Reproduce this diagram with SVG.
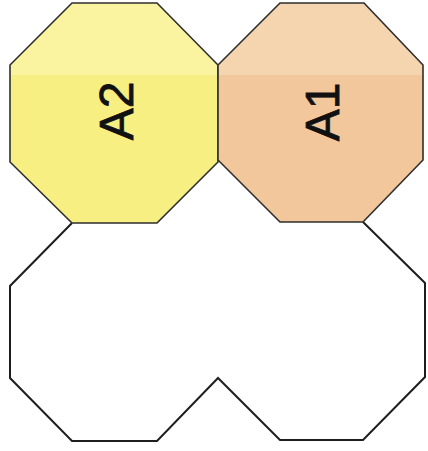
<svg xmlns="http://www.w3.org/2000/svg" width="428" height="451" viewBox="0 0 428 451">
<defs>
<linearGradient id="gy" gradientUnits="userSpaceOnUse" x1="0" y1="0" x2="0" y2="451">
<stop offset="0" stop-color="#faf4a0"/><stop offset="0.166" stop-color="#faf4a0"/><stop offset="0.166" stop-color="#f8ef82"/><stop offset="1" stop-color="#f8ef82"/>
</linearGradient>
<linearGradient id="go" gradientUnits="userSpaceOnUse" x1="0" y1="0" x2="0" y2="451">
<stop offset="0" stop-color="#f5d4b0"/><stop offset="0.166" stop-color="#f5d4b0"/><stop offset="0.166" stop-color="#f2c79c"/><stop offset="1" stop-color="#f2c79c"/>
</linearGradient>
</defs>
<style>
.oct{stroke:#2e2e2e;stroke-width:1.6;stroke-linejoin:miter}
.lbl{font-family:"Liberation Sans",Arial,sans-serif;font-size:48px;fill:#111111;stroke:#111111;stroke-width:0.8;text-anchor:middle}
.out{fill:none;stroke:#1e1e1e;stroke-width:2;stroke-linejoin:miter}
</style>
<rect width="428" height="451" fill="#ffffff"/>
<g id="bottom">
<polyline class="out" points="72,223 10,286 10,378 72,441 157,441 218,378 280,440 363,440 425,377 425,283 363,222"/>
</g>
<g id="A2">
<polygon class="oct" fill="url(#gy)" points="72,3 157,3 218,65 218,162 157,223 72,223 10,162 10,65"/>
<text class="lbl" transform="translate(116,111) rotate(-90)" x="0" y="17">A2</text>
</g>
<g id="A1">
<polygon class="oct" fill="url(#go)" points="280,3 364,3 423,65 423,160 363,222 280,222 218,160 218,65"/>
<text class="lbl" transform="translate(322,112) rotate(-90)" x="0" y="17">A1</text>
</g>
<g id="connectors"/>
</svg>
